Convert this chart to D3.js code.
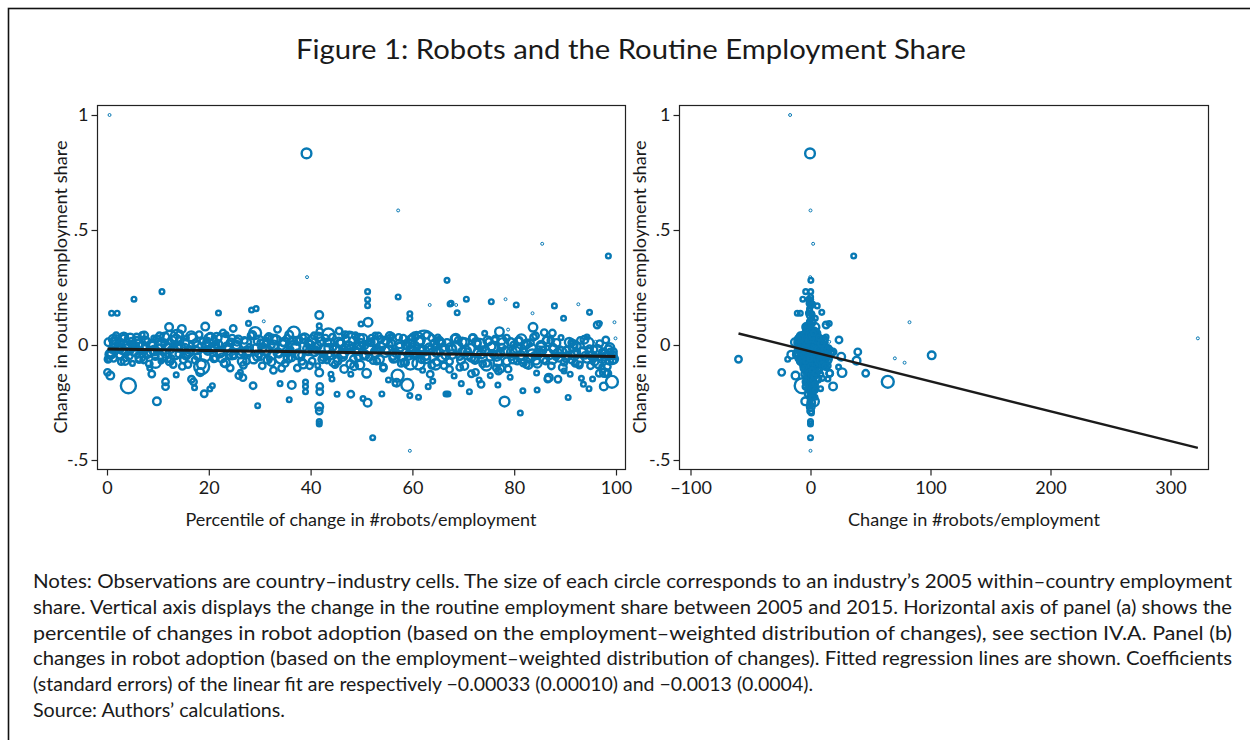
<!DOCTYPE html>
<html>
<head>
<meta charset="utf-8">
<script src="https://cdn.jsdelivr.net/npm/d3@7"></script>
<style>
  body { margin: 0; background: #fff; }
  text { font-family: Lato, "Open Sans", sans-serif; fill: #1a1a1a; }
</style>
</head>
<body>
<svg id="fig" width="1250" height="740"></svg>
<script>
// Country-industry cells: percentile of robot change (panel a), raw robot change (panel b),
// change in routine employment share (vertical), and 2005 employment share in % (marker size).
const percentile = [
  0.1,0.2,0.4,0.5,0.65,0.8,0.9,1.0,1.2,1.4,1.6,1.8,2.0,2.2,2.5,2.8,3.0,3.3,3.6,3.9,4.2,4.5,4.8,5.0,5.3,
  5.5,5.8,6.0,6.3,6.6,6.9,7.2,7.5,7.8,8.1,8.4,8.8,8.9,9.2,9.5,9.8,10.0,
  10.3,10.6,10.8,11.0,11.3,11.5,11.5,11.8,12.2,12.4,12.6,13.0,13.3,13.6,13.7,14.1,14.4,14.7,15.0,
  15.3,15.6,15.9,16.2,16.6,17.0,17.2,17.4,17.8,18.1,18.6,19.1,19.3,19.5,19.8,20.2,20.3,
  20.7,21.0,21.4,21.9,22.2,22.6,23.0,23.4,23.8,24.2,24.6,24.8,25.0,
  25.4,25.9,26.2,26.4,26.7,27.0,27.4,27.8,28.0,28.4,28.7,29.1,29.3,29.6,29.8,30.2,
  30.5,30.8,31.1,31.5,31.9,32.3,32.7,33.1,33.5,33.8,34.0,34.2,34.6,
  35.0,35.4,35.8,36.0,36.3,36.7,37.0,37.4,37.8,38.2,38.6,39.0,39.0,39.0,39.2,39.3,39.5,39.9,
  40.3,40.7,41.0,41.4,41.7,41.7,41.7,41.8,41.8,41.7,41.7,41.7,41.7,42.1,42.5,42.9,43.2,43.5,44.0,44.2,44.4,44.8,
  45.2,45.6,45.9,46.3,46.6,47.0,47.4,47.6,47.9,47.9,48.0,48.4,48.8,49.2,49.7,49.9,
  50.3,50.5,51.0,51.2,51.2,51.2,51.3,51.4,51.2,51.5,52.0,52.2,52.7,53.0,53.4,53.8,54.0,54.3,54.8,
  55.3,55.6,56.0,56.2,56.6,56.9,57.1,57.2,57.2,57.5,57.8,58.2,58.6,59.0,59.5,59.5,59.5,59.5,59.6,59.8,
  60.2,60.6,60.8,61.2,61.2,61.6,62.0,62.3,62.7,63.1,63.4,63.5,63.8,64.0,64.4,64.8,65.0,
  65.4,65.8,66.2,66.6,66.8,67.0,67.3,67.4,67.6,67.8,68.2,68.6,68.8,69.0,69.3,69.6,69.8,
  70.2,70.6,70.8,71.2,71.6,71.9,72.2,72.4,72.8,73.1,73.5,73.8,74.2,74.6,75.0,
  75.3,75.5,75.8,76.2,76.5,76.8,76.9,77.1,77.3,77.6,78.1,78.3,78.5,78.8,79.2,79.5,79.9,
  80.4,80.6,81.0,81.2,81.4,81.7,82.0,82.4,82.8,83.2,83.6,83.7,84.0,84.2,84.4,84.5,84.8,
  85.3,85.5,85.9,86.2,86.6,86.8,87.2,87.5,87.6,87.9,88.2,88.6,89.0,89.2,89.7,89.8,
  90.2,90.6,91.0,91.3,91.7,92.0,92.3,92.6,93.0,93.2,93.6,93.9,94.3,94.7,94.8,95.0,
  95.4,95.7,96.0,96.3,96.7,96.7,97.0,97.2,97.4,97.6,97.7,97.8,98.0,98.2,98.4,98.5,98.7,98.9,99.0,99.1,99.2,99.4,99.5,99.7,99.9,
  // cells inside the dense band
  0.3,0.8,1.3,1.8,2.3,2.8,3.3,3.8,4.3,4.8,
  5.3,5.8,6.3,6.8,7.3,7.8,8.3,8.8,9.3,9.8,
  10.3,10.8,11.3,11.8,12.3,12.8,13.3,13.8,14.3,14.8,
  15.3,15.8,16.3,16.8,17.3,17.8,18.3,18.8,19.3,19.8,
  20.3,20.8,21.3,21.8,22.3,22.8,23.3,23.8,24.3,24.8,
  25.3,25.8,26.3,26.8,27.3,27.8,28.3,28.8,29.3,29.8,
  30.3,30.8,31.3,31.8,32.3,32.8,33.3,33.8,34.3,34.8,
  35.3,35.8,36.3,36.8,37.3,37.8,38.3,38.8,39.3,39.8,
  40.3,40.8,41.3,41.8,42.3,42.8,43.3,43.8,44.3,44.8,
  45.3,45.8,46.3,46.8,47.3,47.8,48.3,48.8,49.3,49.8,
  50.3,50.8,51.3,51.8,52.3,52.8,53.3,53.8,54.3,54.8,
  55.3,55.8,56.3,56.8,57.3,57.8,58.3,58.8,59.3,59.8,
  60.3,60.8,61.3,61.8,62.3,62.8,63.3,63.8,64.3,64.8,
  65.3,65.8,66.3,66.8,67.3,67.8,68.3,68.8,69.3,69.8,
  70.3,70.8,71.3,71.8,72.3,72.8,73.3,73.8,74.3,74.8,
  75.3,75.8,76.3,76.8,77.3,77.8,78.3,78.8,79.3,79.8,
  80.3,80.8,81.3,81.8,82.3,82.8,83.3,83.8,84.3,84.8,
  85.3,85.8,86.3,86.8,87.3,87.8,88.3,88.8,89.3,89.8,
  90.3,90.8,91.3,91.8,92.3,92.8,93.3,93.8,94.3,94.8,
  95.3,95.8,96.3,96.8,97.3,97.8,98.3,98.8,99.3,
  0.55,1.55,2.55,3.55,4.55,5.55,6.55,7.55,8.55,9.55,
  10.55,11.55,12.55,13.55,14.55,15.55,16.55,17.55,18.55,19.55,
  20.55,21.55,22.55,23.55,24.55,25.55,26.55,27.55,28.55,29.55,
  30.55,31.55,32.55,33.55,34.55,35.55,36.55,37.55,38.55,39.55,
  40.55,41.55,42.55,43.55,44.55,45.55,46.55,47.55,48.55,49.55,
  50.55,51.55,52.55,53.55,54.55,55.55,56.55,57.55,58.55,59.55,
  60.55,61.55,62.55,63.55,64.55,65.55,66.55,67.55,68.55,69.55,
  70.55,71.55,72.55,73.55,74.55,75.55,76.55,77.55,78.55,79.55,
  80.55,81.55,82.55,83.55,84.55,85.55,86.55,87.55,88.55,89.55,
  90.55,91.55,92.55,93.55,94.55,95.55,96.55,97.55,98.55,99.55
];
const robotChange = [
  -24,-60,-19,-17,-12.5,-16,-11,-10,-9.5,-9,-9,-8.5,-8.5,-8,-8,-7.8,-7.5,-7.5,-7.2,-7,-6.9,-6.8,-6.6,-6.5,-6.4,
  -6.2,-6,-6,-5.8,-5.6,-5.5,-5.4,-5.2,-5.1,-5,-4.9,-4.8,-4.7,-4.6,-4.5,-4.4,-4.3,
  -4.2,-4.1,-4,-4,-3.9,-3.8,-3.8,-3.7,-3.6,-3.5,-3.5,-3.4,-3.3,-3.3,-3.2,-3.1,-3,-3,-2.9,
  -2.8,-2.8,-2.7,-2.6,-2.6,-2.5,-2.5,-2.4,-2.3,-2.3,-2.2,-2.1,-2.1,-2,-2,-1.9,-1.9,
  -1.8,-1.8,-1.7,-1.7,-1.6,-1.6,-1.5,-1.5,-1.4,-1.4,-1.3,-1.3,-1.2,
  -1.2,-1.1,-1.1,-1,-1,-1,-0.9,-0.9,-0.9,-0.8,-0.8,-0.8,-0.7,-0.7,-0.7,-0.6,
  -0.6,-0.6,-0.5,-0.5,-0.5,-0.4,-0.4,-0.4,-0.3,-0.3,-0.3,-0.3,-0.2,
  -0.2,-0.2,-0.2,-0.1,-0.1,-0.1,-0.1,0,0,0,0,0,0,0,-0.4,-0.2,0,0,
  0,0.1,0.1,0.1,0.1,0.1,0.1,0.1,0.1,0.2,0.1,0,0,0.1,0.2,0.2,0.2,0.2,0.2,0.2,0.2,0.2,
  0.3,0.3,0.3,0.3,0.3,0.3,0.4,0.4,0.4,0.4,0.4,0.4,0.4,0.5,0.5,0.5,
  0.5,0.5,0.5,0.2,0,0.3,0.6,0.6,0.6,0.6,0.6,0,0.6,0.7,0.7,0.7,0.7,0.7,0.7,
  0.8,0.8,0.8,0.8,0.8,0.9,0.9,0.1,0,0.9,1,1,1,1,1,1.1,1.1,0,1.1,1.1,
  1.1,1.2,1.2,3.75,1.2,1.2,1.3,1.3,1.3,1.3,1.3,1.4,1.4,1.4,1.4,1.5,1.5,
  1.5,1.5,1.6,1.6,0.3,1.6,1.7,1.7,-1.2,1.7,1.8,2.6,-0.8,1.8,1.9,1.9,1.9,
  2,-1.5,2,2.1,2.1,2.1,2.2,2.2,2.2,2.3,2.3,2.3,2.4,2.4,2.5,
  2.5,-0.5,2.6,2.6,2.7,2.7,2.7,2.8,2.8,2.8,2.9,1.5,3,3,3,3.1,3.1,
  1.0,3.2,3.3,0.8,3.4,3.4,3.5,3.5,3.6,3.7,2.0,3.8,3.8,3.9,3.9,4,4,
  4.2,2.2,4.4,4.6,4.8,5,5.2,5.4,5.6,5.6,6,6.3,6.6,6.9,4,7.5,
  7.8,1.5,8.6,9,9.4,9.8,10.2,2.5,11,10,4,12,13,8.4,9.4,14,
  14.5,15,15.6,13,15.6,16,12,23.4,18.8,18.8,26.3,25.6,23.75,16,46,36,38.4,39.4,70.3,78.4,64.4,101,17,82.5,322.8,
  -13,-10.5,-9.8,-9.2,-8.8,-8.3,-7.9,-7.6,-7.2,-6.9,
  -6.6,-6.3,-6.0,-5.7,-5.5,-5.2,-5.0,-4.8,-4.6,-4.4,
  -4.2,-4.0,-3.9,-3.7,-3.6,-3.4,-3.3,-3.2,-3.0,-2.9,
  -2.8,-2.7,-2.6,-2.5,-2.4,-2.3,-2.2,-2.1,-2.0,-1.9,
  -1.8,-1.7,-1.6,-1.5,-1.5,-1.4,-1.3,-1.3,-1.2,-1.1,
  -1.1,-1.0,-1.0,-0.9,-0.9,-0.8,-0.8,-0.7,-0.7,-0.6,
  -0.6,-0.5,-0.5,-0.4,-0.4,-0.4,-0.3,-0.3,-0.3,-0.2,
  -0.2,-0.2,-0.1,-0.1,-0.1,0,0,0,0,0,
  0,0.1,0.1,0.1,0.1,0.2,0.2,0.2,0.2,0.2,
  0.3,0.3,0.3,0.4,0.4,0.4,0.4,0.5,0.5,0.5,
  0.5,0.6,0.6,0.6,0.6,0.7,0.7,0.7,0.7,0.8,
  0.8,0.8,0.9,0.9,0.9,1.0,1.0,1.0,1.1,1.1,
  1.1,1.2,1.2,1.3,1.3,1.3,1.4,1.4,1.5,1.5,
  1.6,1.6,1.7,1.7,1.8,1.8,1.9,1.9,2.0,2.0,
  2.1,2.1,2.2,2.3,2.3,2.4,2.4,2.5,2.6,2.6,
  2.7,2.8,2.8,2.9,3.0,3.0,3.1,3.2,3.3,3.3,
  3.4,3.5,3.6,3.7,3.8,3.9,4.0,4.1,4.3,4.4,
  4.6,4.8,5.0,5.3,5.6,5.9,6.2,6.5,6.9,7.3,
  7.7,8.1,8.5,9.0,9.5,10,10.5,11,11.6,12.2,
  12.8,13.5,14,9,10.5,11.5,12.5,8,9.5,
  -11,-9.4,-8.6,-7.7,-7.1,-6.7,-6.1,-5.6,-5.1,-4.7,
  -4.1,-3.8,-3.4,-3.1,-2.9,-2.7,-2.5,-2.3,-2.1,-1.9,
  -1.8,-1.6,-1.5,-1.4,-1.2,-1.1,-1.0,-0.9,-0.8,-0.7,
  -0.6,-0.5,-0.4,-0.4,-0.3,-0.2,-0.1,-0.1,0,0,
  0.1,0.1,0.2,0.2,0.3,0.3,0.4,0.4,0.5,0.5,
  0.6,0.6,0.7,0.8,0.8,0.9,1.0,1.0,1.1,1.2,
  1.3,1.4,1.5,1.6,1.7,1.8,1.9,2.0,2.1,2.2,
  2.3,2.4,2.6,2.7,2.8,3.0,3.1,3.2,3.4,3.5,
  3.7,3.9,4.1,4.3,4.6,4.9,5.2,5.5,5.9,6.4,
  6.9,7.5,8.1,8.8,9.6,10.4,11.3,12.2,13.1,14.2
];
const routineChange = [
  -0.119,-0.062,-0.062,1.0,-0.133,-0.042,0.138,-0.02,0.025,0.005,-0.03,0.04,0.138,-0.01,-0.045,0.015,-0.02,0.03,-0.06,0.0,-0.177,-0.025,0.02,-0.08,0.199,
  -0.01,0.035,-0.045,0.005,-0.025,0.045,-0.065,-0.005,0.02,-0.04,-0.1,-0.126,0.0,0.03,-0.05,-0.245,-0.015,
  0.04,-0.07,0.232,-0.03,0.01,-0.16,-0.181,-0.055,0.078,0.032,-0.02,-0.085,0.005,-0.13,0.039,-0.04,0.02,0.07,-0.065,
  -0.01,0.03,-0.085,-0.03,-0.149,-0.16,-0.186,0.01,-0.05,0.045,-0.094,-0.212,0.08,-0.02,0.02,-0.191,0.02,
  -0.177,-0.06,0.0,0.139,-0.035,0.02,-0.08,0.045,-0.015,-0.1,0.03,0.072,-0.05,
  0.0,-0.133,-0.119,-0.03,-0.142,0.02,-0.07,0.094,-0.01,0.152,-0.177,0.052,0.158,-0.264,-0.04,0.01,
  -0.09,0.103,-0.025,0.03,-0.06,0.0,-0.11,0.025,0.068,-0.04,-0.168,-0.055,0.01,
  -0.08,0.03,-0.238,-0.02,-0.174,0.054,-0.01,-0.1,0.02,-0.045,0.035,-0.161,-0.18,-0.203,0.833,0.295,-0.03,0.0,
  -0.07,0.04,-0.02,-0.09,0.13,0.083,-0.12,-0.18,-0.203,-0.268,-0.287,-0.333,-0.343,0.015,-0.04,0.03,-0.065,0.046,-0.127,-0.148,-0.01,-0.085,
  -0.214,0.061,0.01,-0.05,-0.104,0.025,-0.02,0.029,-0.214,-0.127,0.017,-0.06,0.04,-0.03,-0.087,0.091,
  -0.233,0.0,-0.123,0.232,0.197,0.171,0.099,-0.012,-0.251,-0.055,0.03,-0.403,0.043,-0.07,-0.02,0.025,-0.213,-0.1,-0.004,
  -0.152,0.03,0.04,-0.05,-0.167,-0.164,-0.133,0.209,0.585,0.005,-0.08,0.03,-0.03,-0.174,0.136,0.116,-0.22,-0.46,-0.077,0.01,
  -0.045,0.035,0.022,-0.227,-0.08,-0.02,-0.11,0.017,-0.05,-0.181,0.174,-0.127,0.03,-0.157,-0.01,-0.075,0.035,
  -0.03,0.01,-0.09,-0.213,0.281,-0.213,-0.106,0.178,0.181,-0.02,-0.135,0.174,0.14,0.02,-0.05,-0.168,0.013,
  -0.091,0.199,-0.03,-0.203,-0.125,0.03,-0.06,-0.119,0.005,-0.152,-0.171,-0.02,0.051,-0.08,0.015,
  -0.133,0.188,-0.04,0.02,-0.1,-0.174,-0.113,0.058,-0.103,-0.01,-0.246,0.199,0.03,0.067,-0.14,-0.05,0.0,
  0.174,-0.07,0.02,-0.296,0.025,-0.199,-0.03,-0.085,-0.087,0.01,0.138,0.077,-0.045,0.04,-0.122,-0.196,-0.02,
  -0.004,0.44,0.054,-0.07,-0.148,-0.142,0.02,0.052,-0.012,0.17,-0.05,-0.149,-0.02,0.032,0.116,-0.113,
  -0.06,-0.228,-0.127,0.01,0.003,-0.08,-0.03,0.177,0.02,-0.145,-0.171,-0.045,0.035,-0.19,0.142,-0.09,
  -0.148,-0.02,0.014,0.087,0.093,-0.123,0.096,-0.096,-0.03,-0.18,-0.12,-0.051,0.022,-0.123,-0.123,0.387,-0.068,-0.03,-0.058,-0.077,-0.16,-0.045,-0.029,0.099,0.029,
  0.012,-0.034,-0.058,0.021,-0.007,-0.072,0.035,-0.021,-0.046,0.004,
  -0.028,0.018,-0.063,-0.009,0.041,-0.038,-0.082,0.006,-0.024,0.027,
  -0.015,-0.052,0.032,-0.004,-0.071,0.019,-0.036,-0.011,0.048,-0.093,
  0.008,-0.041,-0.022,0.029,-0.066,-0.003,-0.118,0.015,-0.048,-0.026,
  0.036,-0.012,-0.057,0.003,-0.031,0.052,-0.078,-0.019,0.011,-0.044,
  -0.006,0.024,-0.039,-0.088,0.008,-0.027,0.041,-0.061,-0.013,0.019,
  -0.048,0.006,-0.021,0.037,-0.074,-0.002,0.022,-0.035,-0.101,0.013,
  -0.029,0.044,-0.056,-0.008,0.018,-0.042,-0.071,0.029,-0.016,-0.09,
  0.021,-0.031,-0.005,0.058,-0.062,-0.018,0.011,-0.044,0.034,-0.024,
  -0.069,0.007,-0.037,0.045,-0.011,-0.083,0.016,-0.026,-0.052,0.004,
  0.028,-0.043,-0.015,0.012,-0.068,-0.031,0.039,-0.009,-0.095,0.019,
  -0.022,0.008,-0.058,-0.036,0.033,-0.014,-0.076,0.002,-0.047,0.024,
  -0.007,-0.039,0.015,-0.064,-0.025,0.042,-0.012,-0.088,0.006,-0.033,
  0.018,-0.053,-0.019,0.009,-0.072,-0.041,0.028,-0.006,-0.097,-0.028,
  0.011,-0.046,-0.017,0.031,-0.065,-0.035,0.004,-0.082,-0.023,0.019,
  -0.051,-0.012,0.026,-0.074,-0.038,0.007,-0.026,-0.105,0.013,-0.061,
  -0.029,0.016,-0.044,-0.079,0.003,-0.057,-0.018,0.034,-0.068,-0.036,
  -0.008,-0.062,0.021,-0.041,-0.091,-0.019,0.009,-0.053,-0.031,-0.075,
  -0.024,0.012,-0.066,-0.043,-0.005,-0.087,-0.032,0.023,-0.058,-0.016,
  -0.047,-0.072,-0.021,0.006,-0.059,-0.038,-0.094,-0.011,-0.066,
  -0.041,0.009,-0.016,-0.067,0.026,-0.005,-0.052,0.017,-0.031,-0.078,
  0.003,-0.036,-0.061,0.022,-0.013,-0.047,0.038,-0.024,-0.085,0.001,
  -0.019,0.031,-0.056,-0.008,-0.039,0.014,-0.071,-0.027,0.043,-0.049,
  -0.011,-0.064,0.024,-0.033,-0.002,-0.058,0.019,-0.041,-0.083,0.008,
  -0.026,0.035,-0.053,-0.014,-0.069,0.011,-0.037,-0.004,-0.092,0.027,
  -0.045,-0.018,0.016,-0.062,-0.029,0.039,-0.051,-0.009,-0.076,0.005,
  -0.034,0.021,-0.058,-0.021,-0.084,0.008,-0.043,-0.013,0.029,-0.066,
  -0.027,-0.055,0.012,-0.039,-0.088,-0.006,-0.047,0.022,-0.071,-0.031,
  -0.016,-0.058,0.006,-0.042,-0.079,-0.024,0.017,-0.063,-0.035,-0.098,
  -0.046,-0.011,-0.073,-0.028,0.009,-0.055,-0.082,-0.037,-0.019,-0.061
];
const empShare = [
  0.58,0.58,0.3,0.12,0.8,0.8,0.3,0.58,1.0,0.58,0.3,0.58,0.3,0.58,0.58,0.3,1.0,0.58,0.3,0.58,3.1,0.58,0.3,0.3,0.3,
  0.58,0.58,0.3,1.0,0.58,0.3,0.58,0.58,0.3,0.58,0.3,0.58,0.58,0.3,0.58,0.8,1.0,
  0.58,0.3,0.3,0.58,0.58,0.58,0.58,1.0,0.8,2.5,0.58,0.58,0.3,0.3,1.95,0.58,0.58,0.8,0.58,
  0.58,0.3,0.58,1.0,0.58,0.58,0.3,0.58,0.58,0.58,3.1,0.58,0.8,0.58,0.3,0.3,2.5,
  0.3,0.58,0.58,0.3,1.0,2.5,0.58,0.3,0.58,0.58,0.58,0.58,0.3,
  1.0,0.58,0.3,0.58,0.58,0.58,0.58,0.3,0.58,0.3,0.58,1.95,0.3,0.3,0.58,0.58,
  0.58,0.12,1.0,0.58,0.3,0.58,0.58,1.0,0.58,0.58,0.3,1.95,0.58,
  0.58,0.58,0.3,0.58,0.8,1.95,1.0,0.58,0.58,0.58,0.3,0.3,0.3,0.3,1.3,0.12,0.58,1.0,
  0.58,0.58,0.58,0.3,0.8,0.3,0.8,0.58,0.58,0.8,0.58,0.3,0.3,1.0,0.58,0.58,0.58,1.95,0.3,0.3,0.58,0.58,
  0.3,0.58,0.58,1.0,0.8,0.58,0.58,2.5,0.58,0.3,3.5,0.58,0.58,0.58,1.0,0.3,
  0.3,1.0,1.0,0.3,0.3,0.3,1.0,2.5,0.8,0.58,0.58,0.3,0.3,0.58,0.58,0.58,0.3,0.58,2.5,
  0.3,0.58,0.3,0.58,0.3,0.8,1.95,0.3,0.12,1.0,0.58,0.58,0.58,1.95,0.3,0.3,0.3,0.12,2.5,0.58,
  0.58,0.58,3.5,0.3,2.0,0.58,0.3,6.0,0.58,0.3,0.12,0.58,0.58,0.3,0.58,0.58,0.3,
  0.58,0.58,0.58,0.3,0.3,0.3,0.58,0.3,0.3,1.0,0.3,0.12,0.3,0.58,0.58,0.3,1.0,
  0.8,0.3,0.58,0.3,0.58,0.8,0.58,0.58,0.58,0.3,0.58,0.58,0.3,0.58,0.58,
  0.3,0.3,0.58,0.58,0.58,0.3,0.58,1.0,0.8,0.58,1.3,0.12,0.58,0.12,0.3,0.58,0.58,
  0.3,0.58,0.58,0.3,1.3,0.3,0.58,0.58,0.8,0.58,0.12,1.0,0.58,0.58,0.3,0.3,0.58,
  1.3,0.12,0.58,0.58,0.58,0.8,0.58,0.58,0.8,0.3,0.58,0.58,0.58,0.3,0.3,0.3,
  0.58,0.3,0.3,0.58,0.8,0.58,0.58,0.12,0.58,0.3,0.3,0.58,0.3,0.3,0.3,0.58,
  0.3,0.58,0.12,0.58,0.3,0.58,0.12,0.3,0.58,0.8,1.0,0.8,0.58,0.58,0.58,0.3,0.8,0.58,0.12,0.12,1.95,0.8,0.58,0.12,0.12,
  0.8,1.0,0.58,1.3,0.8,0.58,1.0,1.5,0.8,0.58,
  1.0,0.8,0.58,1.5,0.8,1.0,0.58,0.8,1.3,0.58,
  0.8,1.0,1.3,0.58,0.8,1.0,2.0,0.8,0.58,0.58,
  1.0,0.58,0.8,1.3,0.58,1.0,0.8,0.58,1.5,0.8,
  0.8,1.3,0.58,1.0,0.8,0.58,1.0,1.5,0.8,0.58,
  1.3,0.8,1.0,0.58,1.5,0.8,0.58,1.0,0.8,1.3,
  0.8,1.0,1.5,0.58,0.8,1.3,1.0,0.8,0.58,1.0,
  1.0,0.8,0.58,2.0,0.8,1.0,0.58,1.3,0.8,0.58,
  1.3,0.8,1.0,0.58,0.8,1.5,0.8,1.0,0.58,1.3,
  0.8,1.0,1.3,0.58,2.0,0.8,1.0,0.8,0.58,1.5,
  1.0,0.8,1.5,0.8,0.58,1.3,0.58,1.0,0.58,0.8,
  1.3,0.8,1.0,0.8,0.58,2.0,0.58,1.0,0.8,1.0,
  1.5,0.8,1.0,0.58,1.3,0.58,1.0,0.58,0.8,1.0,
  0.8,1.0,1.3,0.8,0.58,1.0,0.8,1.5,0.58,0.8,
  1.0,0.8,1.3,0.58,0.8,1.0,1.5,0.58,0.8,1.0,
  0.8,1.3,0.58,1.0,0.8,1.5,1.0,0.58,0.8,1.0,
  1.3,0.8,1.0,0.58,1.0,0.8,1.5,0.58,0.8,1.0,
  1.0,0.8,0.58,1.3,0.58,1.0,0.8,1.0,1.3,0.58,
  0.8,1.0,0.58,1.3,0.8,0.58,1.0,0.8,1.0,0.58,
  1.0,0.8,1.3,0.58,1.0,0.8,0.58,1.0,0.8,
  1.0,1.3,0.8,1.0,1.5,0.8,1.3,1.0,0.8,1.3,
  1.3,1.0,0.8,1.5,1.0,0.8,1.3,0.8,1.0,1.0,
  0.8,1.3,1.0,1.0,1.5,0.8,1.0,1.3,0.8,1.0,
  1.0,0.8,1.3,1.0,1.5,1.0,0.8,1.3,1.0,0.8,
  1.3,1.0,0.8,1.0,1.5,1.3,0.8,1.0,0.8,1.3,
  1.0,1.3,0.8,1.0,1.5,0.8,1.3,1.0,0.8,1.0,
  0.8,1.0,1.3,1.0,1.5,0.8,1.0,1.3,1.0,0.8,
  1.3,0.8,1.0,1.0,1.5,0.8,1.3,1.0,0.8,1.3,
  1.0,1.3,0.8,1.5,1.0,0.8,1.3,1.0,1.0,0.8,
  0.8,1.0,1.3,1.0,1.5,0.8,1.0,1.3,0.8,1.0
];

// Axis ticks
const yTickValues = [-0.5, 0, 0.5, 1];
const yTickLabels = ["-.5", "0", ".5", "1"];
const xTicksA = [0, 20, 40, 60, 80, 100];
const xTicksB = [-100, 0, 100, 200, 300];

// Linear fits: [intercept, slope]
const fitA = [-0.017, -0.00033];
const fitB = [-0.028, -0.0013];

const titleText = "Figure 1: Robots and the Routine Employment Share";
const yTitle = "Change in routine employment share";
const xTitleA = "Percentile of change in #robots/employment";
const xTitleB = "Change in #robots/employment";
const noteLines = [
  "Notes: Observations are country–industry cells. The size of each circle corresponds to an industry’s 2005 within–country employment",
  "share. Vertical axis displays the change in the routine employment share between 2005 and 2015. Horizontal axis of panel (a) shows the",
  "percentile of changes in robot adoption (based on the employment–weighted distribution of changes), see section IV.A. Panel (b)",
  "changes in robot adoption (based on the employment–weighted distribution of changes). Fitted regression lines are shown. Coefficients",
  "(standard errors) of the linear fit are respectively −0.00033 (0.00010) and −0.0013 (0.0004).",
  "Source: Authors’ calculations."
];
const noteWidths = [1199, 1199, 1199, 1199, 780, 252];

const svg = d3.select("#fig");
const blue = "#0879b4";

// Outer figure border
svg.append("rect").attr("x", 8.5).attr("y", 8.5).attr("width", 1245).attr("height", 800)
  .attr("fill", "none").attr("stroke", "#111").attr("stroke-width", 1.6);

svg.append("text").attr("x", 631).attr("y", 59).attr("text-anchor", "middle")
  .attr("font-size", 27).attr("textLength", 670).attr("lengthAdjust", "spacingAndGlyphs")
  .text(titleText);

const yScale = d3.scaleLinear().domain([-0.5, 1]).range([460, 115]);
const rScale = d3.scaleSqrt().domain([0, 10]).range([0, 13.5]);

const obs = percentile.map((p, i) => ({
  pct: p, rob: robotChange[i], dy: routineChange[i], w: empShare[i]
}));
// larger circles underneath smaller ones
obs.sort((a, b) => b.w - a.w);

function panel(cfg) {
  const g = svg.append("g");
  const x = cfg.x;
  const [x0, x1] = cfg.frameX;
  const yTop = 105, yBot = 469;

  const clipId = cfg.id + "-clip";
  g.append("clipPath").attr("id", clipId).append("rect")
    .attr("x", x0).attr("y", yTop).attr("width", x1 - x0).attr("height", yBot - yTop);
  const pts = g.append("g").attr("clip-path", `url(#${clipId})`);
  pts.selectAll("circle").data(obs).join("circle")
    .attr("cx", d => x(cfg.xv(d)))
    .attr("cy", d => yScale(d.dy))
    .attr("r", d => rScale(d.w))
    .attr("fill", "none")
    .attr("stroke", blue)
    .attr("stroke-width", d => rScale(d.w) < 2 ? 1.0 : 2.4);

  // fitted line over the observed range
  const ext = d3.extent(obs, cfg.xv);
  const line = d3.line().x(d => x(d)).y(d => yScale(cfg.fit[0] + cfg.fit[1] * d));
  pts.append("path").attr("d", line(ext)).attr("fill", "none")
    .attr("stroke", "#1b1b1b").attr("stroke-width", cfg.lw);

  // frame
  g.append("rect").attr("x", x0 + 0.5).attr("y", yTop + 0.5)
    .attr("width", x1 - x0).attr("height", yBot - yTop)
    .attr("fill", "none").attr("stroke", "#222").attr("stroke-width", 1.2);

  // y axis
  const ya = g.append("g").attr("transform", `translate(${x0 + 0.5},0)`)
    .call(d3.axisLeft(yScale).tickValues(yTickValues)
      .tickFormat((d, i) => yTickLabels[i]).tickSize(6).tickPadding(3));
  ya.select(".domain").remove();
  ya.selectAll("line").attr("stroke", "#222").attr("stroke-width", 1.2);
  ya.selectAll("text").attr("font-size", 18).attr("font-family", "Lato, sans-serif").attr("fill", "#1a1a1a");

  // x axis
  const xa = g.append("g").attr("transform", `translate(0,${yBot + 0.5})`)
    .call(d3.axisBottom(x).tickValues(cfg.ticks).tickFormat(d => d < 0 ? "−" + (-d) : d)
      .tickSize(6).tickPadding(6));
  xa.select(".domain").remove();
  xa.selectAll("line").attr("stroke", "#222").attr("stroke-width", 1.2);
  xa.selectAll("text").attr("font-size", 18).attr("font-family", "Lato, sans-serif").attr("fill", "#1a1a1a");

  // titles
  g.append("text").attr("transform", `translate(${cfg.yTitleX},287) rotate(-90)`)
    .attr("text-anchor", "middle").attr("font-size", 18)
    .attr("textLength", 293).attr("lengthAdjust", "spacingAndGlyphs").text(yTitle);
  g.append("text").attr("x", cfg.xTitle[0]).attr("y", 526).attr("text-anchor", "middle")
    .attr("font-size", 18).attr("textLength", cfg.xTitle[1]).attr("lengthAdjust", "spacingAndGlyphs")
    .text(cfg.xTitleText);
}

panel({
  id: "pa",
  x: d3.scaleLinear().domain([0, 100]).range([107, 616]),
  frameX: [97, 625],
  xv: d => d.pct,
  fit: fitA, lw: 3,
  ticks: xTicksA,
  yTitleX: 67,
  xTitle: [361, 351], xTitleText: xTitleA
});
panel({
  id: "pb",
  x: d3.scaleLinear().domain([0, 100]).range([810.5, 930.5]),
  frameX: [679, 1208],
  xv: d => d.rob,
  fit: fitB, lw: 2.4,
  ticks: xTicksB,
  yTitleX: 646,
  xTitle: [974, 252], xTitleText: xTitleB
});

// Notes block, each line fitted to its set width
const notes = svg.append("g");
noteLines.forEach((t, i) => {
  notes.append("text").attr("x", 33).attr("y", 588 + i * 25.8)
    .attr("font-size", 18.5)
    .attr("textLength", noteWidths[i])
    .attr("lengthAdjust", "spacingAndGlyphs")
    .text(t);
});
</script>
</body>
</html>
